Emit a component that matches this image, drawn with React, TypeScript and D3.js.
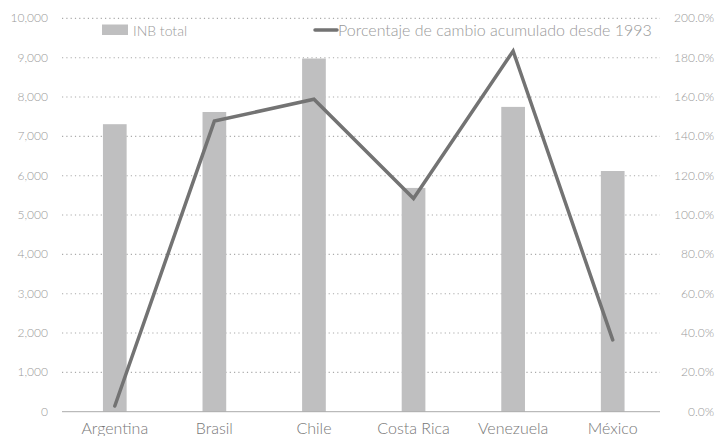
import React from "react";
import * as d3 from "d3";

const categories = ["Argentina", "Brasil", "Chile", "Costa Rica", "Venezuela", "México"];
const inbTotal = [7310, 7620, 8980, 5690, 7750, 6120];
const pctChange = [2.9, 147.8, 158.9, 108.4, 183.4, 36.5];
const leftTicks = [0, 1000, 2000, 3000, 4000, 5000, 6000, 7000, 8000, 9000, 10000];
const rightTicks = [0, 20, 40, 60, 80, 100, 120, 140, 160, 180, 200];
const barLegend = "INB total";
const lineLegend = "Porcentaje de cambio acumulado desde 1993";

const W = 718;
const H = 436;
const FONT = "Lato, 'Open Sans', sans-serif";

export default function App() {
  const x = d3.scaleBand<string>().domain(categories).range([65, 662.5]).paddingInner(0.762).paddingOuter(0.381);
  const yL = d3.scaleLinear().domain([0, 10000]).range([411.7, 18.4]);
  const yR = d3.scaleLinear().domain([0, 200]).range([411.7, 18.4]);
  const cx = (c: string) => (x(c) as number) + x.bandwidth() / 2;
  const line = d3
    .line<number>()
    .x((_, i) => cx(categories[i]))
    .y((d) => yR(d));
  const fmtL = d3.format(",");
  const fmtR = (v: number) => v.toFixed(1) + "%";

  return (
    <svg width={W} height={H} style={{ position: "absolute", left: 0, top: 0 }}>
      <rect width={W} height={H} fill="#fff" />
      {leftTicks.map((t) =>
        t === 0 ? null : (
          <line key={"g" + t} x1={62} x2={660} y1={yL(t)} y2={yL(t)} stroke="#aaa" strokeWidth={1.1} strokeDasharray="1.2,3.1" />
        )
      )}
      {categories.map((c, i) => (
        <rect key={c} x={x(c)} y={yL(inbTotal[i])} width={x.bandwidth()} height={yL(0) - yL(inbTotal[i])} fill="#bfbfc0" />
      ))}
      <line x1={62} x2={660} y1={yL(0)} y2={yL(0)} stroke="#aaa" strokeWidth={1} />
      <path d={line(pctChange) || ""} fill="none" stroke="#737373" strokeWidth={3.5} strokeLinejoin="miter" strokeLinecap="round" />
      {leftTicks.map((t) => (
        <text key={"l" + t} x={48} y={yL(t) + 4} textAnchor="end" fontFamily={FONT} fontWeight={300} fontSize={12} fill="#999">
          {fmtL(t)}
        </text>
      ))}
      {rightTicks.map((t) => (
        <text key={"r" + t} x={714} y={yR(t) + 4} textAnchor="end" fontFamily={FONT} fontWeight={300} fontSize={12} fill="#999">
          {fmtR(t)}
        </text>
      ))}
      {categories.map((c) => (
        <text key={"c" + c} x={cx(c)} y={433.5} textAnchor="middle" fontFamily={FONT} fontWeight={300} fontSize={16} fill="#777">
          {c}
        </text>
      ))}
      <rect x={102} y={24.5} width={26} height={10.5} fill="#bfbfc0" />
      <text x={133} y={35.5} fontFamily={FONT} fontWeight={300} fontSize={14} fill="#999">
        {barLegend}
      </text>
      <line x1={315} x2={337} y1={30} y2={30} stroke="#737373" strokeWidth={3.5} strokeLinecap="round" />
      <text x={338} y={35.5} fontFamily={FONT} fontWeight={300} fontSize={16} fill="#999">
        {lineLegend}
      </text>
    </svg>
  );
}
